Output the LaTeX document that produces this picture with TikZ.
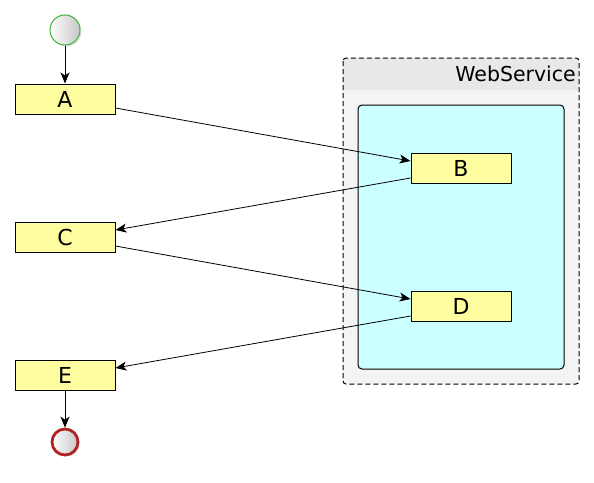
\documentclass[tikz,border=0pt]{standalone}
\usepackage{fontspec}
\setmainfont{DejaVu Sans}
\usetikzlibrary{arrows.meta,shadows}
\definecolor{actfill}{HTML}{FEFEA0}
\definecolor{lanefill}{HTML}{F4F4F4}
\definecolor{lanehead}{HTML}{E8E8E8}
\definecolor{innerfill}{HTML}{CCFFFF}
\definecolor{startline}{HTML}{3CB43C}
\definecolor{stopline}{HTML}{B22222}
\tikzset{
  act/.style={draw=black, fill=actfill, line width=1pt, minimum width=100pt,
    minimum height=30pt, inner sep=0pt, font=\fontsize{22}{24}\selectfont},
  flow/.style={line width=0.8pt, -{Stealth[length=11pt,width=9pt,inset=3pt]}},
  lanedash/.style={dash pattern=on 5pt off 3pt, line width=1pt},
  ball/.style={circle, inner sep=0pt, shading=axis, shading angle=45,
    left color=white, right color=black!22,
    drop shadow={shadow xshift=1.5pt, shadow yshift=-1.5pt, opacity=0.25}},
}
\begin{document}
\begin{tikzpicture}[x=1pt, y=-1pt]
  \useasboundingbox (0,0) rectangle (594,482);

  % Web service partition
  \fill[lanefill, rounded corners=3pt] (343,58) rectangle (579,384);
  \begin{scope}
    \clip[rounded corners=3pt] (343,58) rectangle (579,384);
    \fill[lanehead] (343,58) rectangle (579,90);
  \end{scope}
  \draw[lanedash, rounded corners=3pt] (343,58) rectangle (579,384);
  \node[anchor=east, font=\fontsize{20.5}{22}\selectfont, inner sep=0pt] (title) at (576,74) {WebService};
  \draw[line width=1pt, fill=innerfill, rounded corners=4pt] (358,105) rectangle (564,369);

  % Start and stop
  \node[ball, draw=startline, line width=1pt, minimum size=30pt] (start) at (65,30) {};
  \node[ball, draw=stopline, line width=2.8pt, minimum size=26pt] (stop) at (65,442) {};

  % Activities
  \node[act] (A) at (65,99) {A};
  \node[act] (C) at (65,237) {C};
  \node[act] (E) at (65,375) {E};
  \node[act] (B) at (461,168) {B};
  \node[act] (D) at (461,306) {D};

  % Control flow
  \draw[flow] (start) -- (A);
  \draw[flow] ([yshift=-9pt]A.east) -- ([yshift=7pt]B.west);
  \draw[flow] ([yshift=-10pt]B.west) -- ([yshift=7pt]C.east);
  \draw[flow] ([yshift=-9pt]C.east) -- ([yshift=7pt]D.west);
  \draw[flow] ([yshift=-10pt]D.west) -- ([yshift=7pt]E.east);
  \draw[flow] (E) -- (stop);
\end{tikzpicture}
\end{document}
